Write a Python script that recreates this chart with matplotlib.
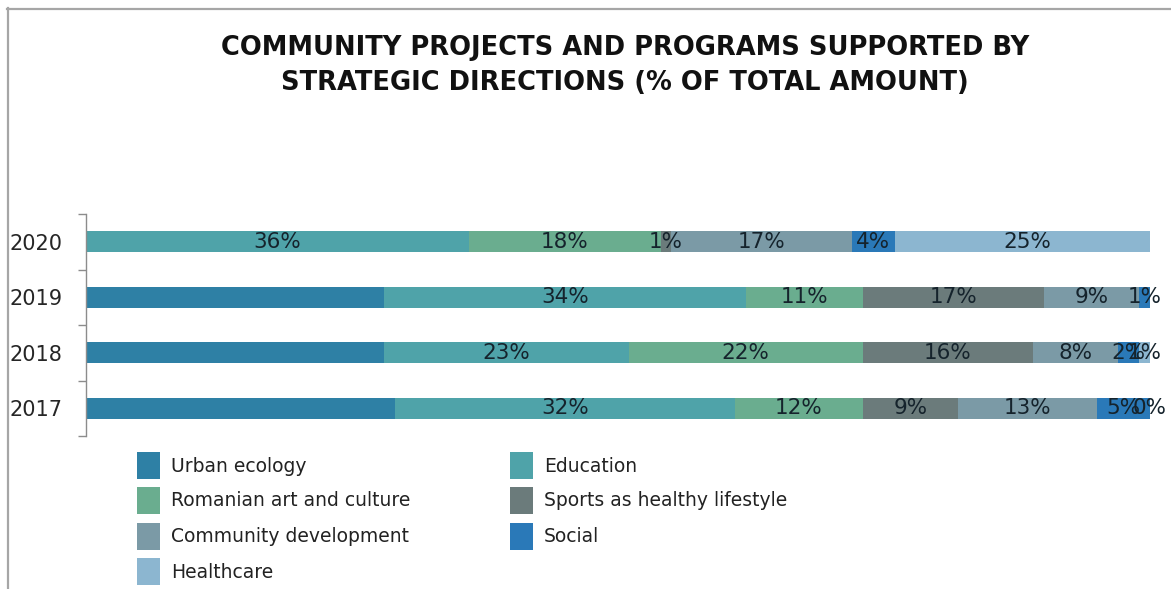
import numpy as np
import matplotlib
matplotlib.use("Agg")
import matplotlib.pyplot as plt
from matplotlib.patches import Rectangle
from matplotlib.lines import Line2D

# ---- data -------------------------------------------------------------
years = ["2017", "2018", "2019", "2020"]          # bottom to top
categories = [
    "Urban ecology",
    "Education",
    "Romanian art and culture",
    "Sports as healthy lifestyle",
    "Community development",
    "Social",
    "Healthcare",
]
urban_ecology = [29, 28, 28, np.nan]
education = [32, 23, 34, 36]
romanian_art = [12, 22, 11, 18]
sports = [9, 16, 17, 1]
community_dev = [13, 8, 9, 17]
social = [5, 2, 1, 4]
healthcare = [0, 1, np.nan, 25]
series = [urban_ecology, education, romanian_art, sports,
          community_dev, social, healthcare]
show_labels = [False, True, True, True, True, True, True]

colors = ["#2e80a5", "#4fa3a9", "#6aad8f", "#6b7b7b",
          "#7b9aa6", "#2a79b8", "#8cb6d0"]

title_lines = ["COMMUNITY PROJECTS AND PROGRAMS SUPPORTED BY",
               "STRATEGIC DIRECTIONS (% OF TOTAL AMOUNT)"]

# ---- figure -----------------------------------------------------------
W, H = 1171, 589
fig = plt.figure(figsize=(W / 100, H / 100), dpi=100)
fig.patch.set_facecolor("white")


def fx(px):
    return px / W


def fy(py):
    return 1 - py / H


ax_left, ax_right, ax_top, ax_bottom = 86, 1150, 214, 436
ax = fig.add_axes([fx(ax_left), fy(ax_bottom),
                   fx(ax_right - ax_left), (ax_bottom - ax_top) / H])

y = np.arange(len(years))
left = np.zeros(len(years))
for vals, col, lab in zip(series, colors, show_labels):
    v = np.array(vals, dtype=float)
    mask = ~np.isnan(v)
    ax.barh(y[mask], v[mask], left=left[mask], height=0.38,
            color=col, edgecolor="none")
    if lab:
        for yi, li, vi in zip(y[mask], left[mask], v[mask]):
            ax.text(li + vi / 2, yi, f"{vi:.0f}%", ha="center", va="center",
                    fontsize=15.5, color="#15232c")
    left[mask] += v[mask]

ax.set_xlim(0, 100)
ax.set_ylim(-0.5, len(years) - 0.5)
for s in ["top", "right", "bottom"]:
    ax.spines[s].set_visible(False)
ax.spines["left"].set_color("#8c8c8c")
ax.spines["left"].set_linewidth(1.0)
ax.set_xticks([])
ax.set_yticks(y)
ax.set_yticklabels(years, fontsize=15, color="#262626")
ax.tick_params(axis="y", which="major", length=0, pad=17)
ax.set_yticks(np.arange(-0.5, len(years), 1.0), minor=True)
ax.tick_params(axis="y", which="minor", length=6, color="#8c8c8c", width=1.0)

# ---- title ------------------------------------------------------------
fig.text(fx(625), fy(48), title_lines[0], ha="center", va="center",
         fontsize=18.5, fontweight="bold", color="#111111")
fig.text(fx(625), fy(83), title_lines[1], ha="center", va="center",
         fontsize=18.5, fontweight="bold", color="#111111")

# ---- legend (row-major, two columns) ----------------------------------
col_x = [137, 510]
row_y = [466, 501, 537, 572]
for i, (name, col) in enumerate(zip(categories, colors)):
    r, c = divmod(i, 2)
    px, py = col_x[c], row_y[r]
    fig.patches.append(Rectangle((fx(px), fy(py + 13)), fx(23), 27 / H,
                                 transform=fig.transFigure,
                                 facecolor=col, edgecolor="none"))
    fig.text(fx(px + 34), fy(py), name, ha="left", va="center",
             fontsize=13.5, color="#222222")

# ---- outer frame ------------------------------------------------------
fig.add_artist(Line2D([fx(7), 1], [fy(8.5), fy(8.5)], transform=fig.transFigure,
                      color="#a6a6a6", linewidth=1.6))
fig.add_artist(Line2D([fx(7.5), fx(7.5)], [fy(8), 0], transform=fig.transFigure,
                      color="#a6a6a6", linewidth=1.6))

fig.savefig("out.png", dpi=100, facecolor="white")
